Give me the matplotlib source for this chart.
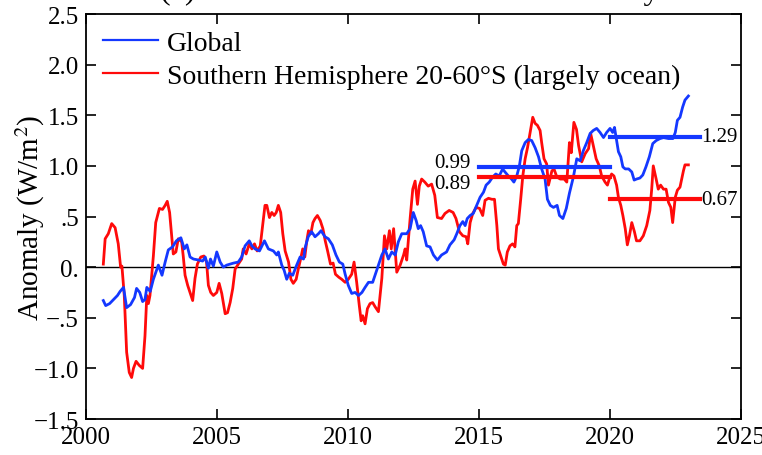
import matplotlib
matplotlib.use("Agg")
import matplotlib.pyplot as plt

# Global series (blue)
global_years = [
    2000.66, 2000.75, 2000.9, 2001.05, 2001.2, 2001.3, 2001.43, 2001.55, 2001.7, 2001.85,
    2001.93, 2002.05, 2002.16, 2002.25, 2002.32, 2002.45, 2002.57, 2002.76, 2002.9, 2003.02,
    2003.14, 2003.3, 2003.45, 2003.62, 2003.75, 2003.85, 2003.97, 2004.1, 2004.3, 2004.45,
    2004.55, 2004.67, 2004.75, 2004.86, 2004.99, 2005.12, 2005.24, 2005.37, 2005.5, 2005.63,
    2005.81, 2005.94, 2006.07, 2006.23, 2006.33, 2006.45, 2006.62, 2006.81, 2006.96, 2007.15,
    2007.28, 2007.34, 2007.47, 2007.56, 2007.66, 2007.76, 2007.89, 2008.04, 2008.17, 2008.3,
    2008.37, 2008.48, 2008.61, 2008.74, 2008.87, 2008.97, 2009.12, 2009.25, 2009.4, 2009.54,
    2009.67, 2009.8, 2009.89, 2010.01, 2010.14, 2010.27, 2010.4, 2010.53, 2010.65, 2010.78,
    2010.94, 2011.03, 2011.16, 2011.29, 2011.41, 2011.54, 2011.67, 2011.8, 2011.92, 2012.05,
    2012.24, 2012.37, 2012.49, 2012.6, 2012.68, 2012.77, 2012.87, 2013.0, 2013.13, 2013.26,
    2013.41, 2013.57, 2013.76, 2013.89, 2014.05, 2014.15, 2014.27, 2014.38, 2014.47, 2014.55,
    2014.66, 2014.78, 2014.91, 2015.04, 2015.17, 2015.27, 2015.39, 2015.52, 2015.64, 2015.77,
    2015.9, 2015.99, 2016.12, 2016.24, 2016.33, 2016.44, 2016.54, 2016.63, 2016.76, 2016.88,
    2017.01, 2017.14, 2017.27, 2017.39, 2017.52, 2017.61, 2017.72, 2017.84, 2017.98, 2018.07,
    2018.2, 2018.33, 2018.45, 2018.6, 2018.73, 2018.86, 2018.98, 2019.11, 2019.24, 2019.36,
    2019.49, 2019.62, 2019.75, 2019.87, 2020.0, 2020.1, 2020.17, 2020.25, 2020.32, 2020.41,
    2020.49, 2020.58, 2020.71, 2020.83, 2020.92, 2021.01, 2021.14, 2021.25, 2021.37, 2021.5,
    2021.63, 2021.76, 2021.91, 2022.04, 2022.23, 2022.4, 2022.49, 2022.57, 2022.67, 2022.77,
    2022.86, 2022.99,
]
global_vals = [
    -0.33, -0.38, -0.36, -0.32, -0.28, -0.24, -0.20, -0.40, -0.37, -0.30,
    -0.21, -0.25, -0.34, -0.32, -0.20, -0.24, -0.12, 0.02, -0.08, 0.05,
    0.17, 0.20, 0.26, 0.29, 0.18, 0.22, 0.10, 0.08, 0.07, 0.06,
    0.10, -0.01, 0.08, 0.01, 0.15, 0.05, 0.00, 0.02, 0.03, 0.04,
    0.05, 0.10, 0.21, 0.26, 0.21, 0.18, 0.16, 0.26, 0.18, 0.16,
    0.12, 0.15, 0.02, -0.03, -0.12, -0.06, -0.08, 0.02, 0.10, 0.08,
    0.20, 0.30, 0.35, 0.30, 0.33, 0.36, 0.30, 0.28, 0.22, 0.12,
    0.05, 0.03, -0.07, -0.18, -0.26, -0.25, -0.28, -0.25, -0.20, -0.15,
    -0.15, -0.08, 0.02, 0.12, 0.18, 0.08, 0.15, 0.12, 0.25, 0.33,
    0.33, 0.38, 0.54, 0.46, 0.38, 0.41, 0.35, 0.21, 0.20, 0.12,
    0.07, 0.12, 0.15, 0.22, 0.27, 0.33, 0.41, 0.45, 0.41, 0.48,
    0.51, 0.53, 0.61, 0.69, 0.74, 0.81, 0.84, 0.89, 0.92, 0.90,
    0.97, 0.94, 0.90, 0.87, 0.84, 0.90, 1.00, 1.15, 1.23, 1.26,
    1.25, 1.18, 1.09, 0.97, 0.87, 0.67, 0.61, 0.59, 0.61, 0.51,
    0.48, 0.58, 0.73, 0.89, 1.07, 1.05, 1.15, 1.23, 1.32, 1.35,
    1.37, 1.33, 1.28, 1.33, 1.37, 1.33, 1.38, 1.25, 1.14, 1.09,
    0.99, 0.97, 0.97, 0.94, 0.86, 0.87, 0.88, 0.91, 0.99, 1.09,
    1.22, 1.25, 1.27, 1.28, 1.27, 1.27, 1.33, 1.45, 1.48, 1.58,
    1.65, 1.69,
]

# Southern Hemisphere 20-60S series (red)
sh_years = [
    2000.66, 2000.73, 2000.85, 2000.98, 2001.11, 2001.23, 2001.32, 2001.37, 2001.46, 2001.55,
    2001.65, 2001.74, 2001.81, 2001.91, 2002.03, 2002.16, 2002.25, 2002.32, 2002.38, 2002.44,
    2002.57, 2002.66, 2002.8, 2002.92, 2003.02, 2003.1, 2003.19, 2003.27, 2003.33, 2003.43,
    2003.52, 2003.65, 2003.71, 2003.78, 2003.88, 2003.97, 2004.07, 2004.16, 2004.25, 2004.38,
    2004.5, 2004.6, 2004.67, 2004.76, 2004.86, 2004.99, 2005.08, 2005.18, 2005.31, 2005.4,
    2005.5, 2005.6, 2005.69, 2005.81, 2005.94, 2006.0, 2006.11, 2006.23, 2006.33, 2006.43,
    2006.53, 2006.65, 2006.74, 2006.83, 2006.9, 2007.0, 2007.09, 2007.18, 2007.26, 2007.34,
    2007.43, 2007.51, 2007.6, 2007.73, 2007.82, 2007.91, 2008.02, 2008.1, 2008.19, 2008.27,
    2008.35, 2008.42, 2008.49, 2008.58, 2008.66, 2008.74, 2008.83, 2008.94, 2009.04, 2009.13,
    2009.22, 2009.33, 2009.43, 2009.52, 2009.65, 2009.76, 2009.89, 2010.01, 2010.14, 2010.23,
    2010.33, 2010.43, 2010.5, 2010.56, 2010.65, 2010.74, 2010.84, 2010.94, 2011.03, 2011.16,
    2011.29, 2011.39, 2011.48, 2011.58, 2011.65, 2011.74, 2011.86, 2011.99, 2012.12, 2012.18,
    2012.24, 2012.37, 2012.47, 2012.56, 2012.65, 2012.72, 2012.81, 2012.93, 2013.06, 2013.19,
    2013.31, 2013.41, 2013.57, 2013.7, 2013.86, 2014.01, 2014.12, 2014.25, 2014.38, 2014.51,
    2014.57, 2014.66, 2014.76, 2014.89, 2015.02, 2015.14, 2015.23, 2015.36, 2015.49, 2015.59,
    2015.68, 2015.74, 2015.83, 2015.93, 2016.0, 2016.08, 2016.18, 2016.28, 2016.37, 2016.44,
    2016.5, 2016.59, 2016.67, 2016.76, 2016.85, 2016.95, 2017.05, 2017.14, 2017.23, 2017.33,
    2017.39, 2017.48, 2017.58, 2017.65, 2017.78, 2017.86, 2017.97, 2018.1, 2018.25, 2018.35,
    2018.45, 2018.52, 2018.62, 2018.72, 2018.8, 2018.92, 2019.05, 2019.18, 2019.26, 2019.36,
    2019.47, 2019.59, 2019.68, 2019.81, 2019.9, 2019.97, 2020.06, 2020.15, 2020.25, 2020.32,
    2020.41, 2020.49, 2020.58, 2020.66, 2020.74, 2020.83, 2020.93, 2021.01, 2021.14, 2021.27,
    2021.4, 2021.52, 2021.59, 2021.65, 2021.76, 2021.84, 2021.93, 2022.04, 2022.14, 2022.23,
    2022.32, 2022.39, 2022.49, 2022.57, 2022.67, 2022.8, 2022.86, 2022.99,
]
sh_vals = [
    0.03, 0.28, 0.33, 0.43, 0.39, 0.23, 0.00, 0.01, -0.28, -0.84,
    -1.04, -1.09, -1.00, -0.93, -0.97, -1.00, -0.68, -0.28, -0.36, -0.28,
    0.11, 0.44, 0.58, 0.57, 0.61, 0.65, 0.54, 0.30, 0.13, 0.15,
    0.28, 0.25, 0.11, -0.08, -0.18, -0.25, -0.33, -0.11, 0.03, 0.10,
    0.11, 0.05, -0.18, -0.25, -0.28, -0.25, -0.16, -0.26, -0.46, -0.45,
    -0.35, -0.21, -0.02, 0.03, 0.08, 0.18, 0.13, 0.23, 0.18, 0.23,
    0.16, 0.21, 0.41, 0.61, 0.61, 0.49, 0.54, 0.51, 0.54, 0.61,
    0.54, 0.33, 0.16, 0.05, -0.12, -0.16, -0.12, -0.02, 0.08, 0.18,
    0.10, 0.25, 0.36, 0.33, 0.44, 0.48, 0.51, 0.46, 0.38, 0.26,
    0.16, 0.03, 0.04, -0.07, -0.10, -0.12, -0.15, -0.12, -0.07, 0.05,
    -0.15, -0.38, -0.53, -0.48, -0.56, -0.41, -0.36, -0.35, -0.39, -0.44,
    -0.11, 0.31, 0.18, 0.36, 0.18, 0.38, -0.05, 0.02, 0.12, 0.18,
    0.07, 0.48, 0.77, 0.85, 0.62, 0.80, 0.87, 0.84, 0.80, 0.82,
    0.71, 0.49, 0.48, 0.53, 0.56, 0.54, 0.48, 0.35, 0.31, 0.30,
    0.23, 0.44, 0.53, 0.59, 0.58, 0.51, 0.66, 0.68, 0.67, 0.67,
    0.41, 0.18, 0.11, 0.03, 0.02, 0.15, 0.21, 0.23, 0.20, 0.41,
    0.43, 0.67, 0.90, 1.07, 1.18, 1.33, 1.48, 1.42, 1.40, 1.35,
    1.23, 1.07, 1.02, 0.81, 0.95, 0.97, 0.89, 0.87, 0.87, 0.84,
    1.23, 1.13, 1.43, 1.36, 1.20, 1.04, 1.12, 1.17, 1.32, 1.20,
    1.07, 1.00, 0.90, 0.84, 0.81, 0.87, 0.92, 0.90, 0.81, 0.69,
    0.61, 0.51, 0.38, 0.22, 0.31, 0.44, 0.35, 0.26, 0.26, 0.31,
    0.41, 0.56, 0.77, 1.00, 0.87, 0.77, 0.81, 0.77, 0.77, 0.64,
    0.59, 0.44, 0.69, 0.76, 0.79, 0.95, 1.01, 1.01,
]

# Period means: (start, end, value)
global_means = [(2015.0, 2020.0, 0.99), (2020.0, 2023.42, 1.29)]
sh_means = [(2015.0, 2020.0, 0.89), (2020.0, 2023.42, 0.67)]

xticks = [2000, 2005, 2010, 2015, 2020, 2025]
yticks = [-1.5, -1.0, -0.5, 0.0, 0.5, 1.0, 1.5, 2.0, 2.5]
ytick_labels = ["\u22121.5", "\u22121.0", "\u2212.5", "0.", ".5", "1.0", "1.5", "2.0", "2.5"]

blue = "#1438ff"
red = "#ff0a0a"

plt.rcParams["font.family"] = ["Liberation Serif", "DejaVu Serif"]
plt.rcParams["mathtext.fontset"] = "stix"

fig = plt.figure(figsize=(7.62, 4.56), dpi=100)
ax = fig.add_axes([0.1129, 0.0789, 0.8596, 0.8882])

ax.axhline(0, color="black", linewidth=1.0, zorder=1)

ax.plot(global_years, global_vals, color=blue, linewidth=2.0, label="Global", zorder=3)
ax.plot(sh_years, sh_vals, color=red, linewidth=2.0,
        label="Southern Hemisphere 20-60\u00b0S (largely ocean)", zorder=2)

for x0, x1, v in global_means:
    ax.plot([x0, x1], [v, v], color=blue, linewidth=3.0, zorder=4)
for x0, x1, v in sh_means:
    ax.plot([x0, x1], [v, v], color=red, linewidth=3.0, zorder=4)

# mean labels
ax.annotate(f"{global_means[0][2]:.2f}", (global_means[0][0], global_means[0][2]),
            xytext=(-6, 3), textcoords="offset points", ha="right", va="center", fontsize=15)
ax.annotate(f"{sh_means[0][2]:.2f}", (sh_means[0][0], sh_means[0][2]),
            xytext=(-6, -5), textcoords="offset points", ha="right", va="center", fontsize=15)
ax.annotate(f"{global_means[1][2]:.2f}", (global_means[1][1], global_means[1][2]),
            xytext=(1, 0), textcoords="offset points", ha="left", va="center", fontsize=15)
ax.annotate(f"{sh_means[1][2]:.2f}", (sh_means[1][1], sh_means[1][2]),
            xytext=(1, 0), textcoords="offset points", ha="left", va="center", fontsize=15)

ax.set_xlim(2000, 2025)
ax.set_ylim(-1.5, 2.5)
ax.set_xticks(xticks)
ax.set_yticks(yticks, labels=ytick_labels)
ax.tick_params(direction="in", length=7, width=1.2, top=True, right=True,
               labelsize=18, pad=5)
for s in ax.spines.values():
    s.set_linewidth(1.3)

ax.set_ylabel("Anomaly (W/m$^2$)", fontsize=21)
ax.yaxis.set_label_coords(-0.06, 0.5)

leg = ax.legend(loc="upper left", bbox_to_anchor=(0.0, 1.0), frameon=False, fontsize=20,
                handlelength=2.0, handletextpad=0.3, labelspacing=0.25, borderaxespad=0.2)
for ln in leg.get_lines():
    ln.set_linewidth(1.6)

# title, mostly cut off at the top edge as in the reference
fig.text(0.538, 1.002, "(a) Absorbed Solar Radiation Anomaly", ha="center", va="baseline",
         fontsize=23)

fig.savefig("out.png", dpi=100)
